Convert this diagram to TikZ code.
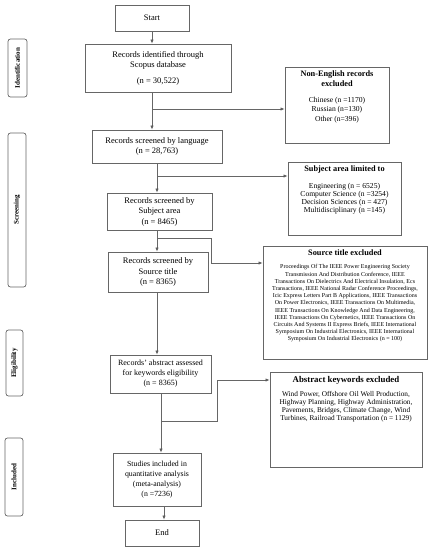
\documentclass[tikz,border=0pt]{standalone}
\usepackage{fontspec}
\setmainfont{Liberation Serif}
\usetikzlibrary{arrows.meta}
\long\def\topbox(#1:#2)#3{\parbox[c][#2][t]{#1}{\centering\vspace*{4pt}#3}}

\begin{document}
\begin{tikzpicture}[x=1pt, y=-1pt,
		box/.style={draw=black!60, line width=0.7pt, align=center, inner sep=1pt, font=\fontsize{8.5}{10.5}\selectfont},
		sidebox/.style={draw=black!60, line width=0.7pt, rounded corners=2.5pt, rotate=90, inner sep=1pt, font=\fontsize{7}{8}\selectfont\bfseries},
		exbox/.style={draw=black!60, line width=0.7pt, inner sep=0pt},
		flow/.style={draw=black!60, line width=0.6pt, -{Latex[length=4pt, width=3.2pt, fill=black]}}]
		%%%%% START %%%%%
		
		\useasboundingbox (0, 0) rectangle (432, 550);
		
		\node[sidebox, minimum width=58, minimum height=19] (phaseid) at (17.5, 68) {Identification};
		\node[sidebox, minimum width=154, minimum height=18] (phasesc) at (17, 210) {Screening};
		\node[sidebox, minimum width=66, minimum height=17] (phaseel) at (14.5, 363) {Eligibility};
		\node[sidebox, minimum width=78, minimum height=18] (phasein) at (14, 477) {Included};
		
		\node[box, minimum width=74, minimum height=26] (start) at (152, 18) {Start};
		\node[box, minimum width=146, minimum height=48] (ident) at (158, 68) {Records identified through\\ Scopus database\\[5pt] (n = 30,522)};
		\node[box, minimum width=130, minimum height=33] (lang) at (157, 146.5) {Records screened by language\\ (n = 28,763)};
		\node[box, minimum width=105, minimum height=37] (subj) at (159.5, 211.5) {Records screened by\\ Subject area\\ (n = 8465)};
		\node[box, minimum width=100, minimum height=40] (src) at (158, 272) {Records screened by\\ Source title\\ (n = 8365)};
		\node[box, minimum width=101, minimum height=38, font=\fontsize{8}{10}\selectfont] (abstr) at (160.5, 374) {Records’ abstract assessed\\ for keywords eligibility\\ (n = 8365)};
		\node[box, minimum width=88, minimum height=53, font=\fontsize{7.8}{10}\selectfont] (studies) at (157, 479.5) {Studies included in\\ quantitative analysis\\ (meta-analysis)\\ (n =7236)};
		\node[box, minimum width=74, minimum height=26] (end) at (162, 533) {End};
		
		\node[exbox] (noneng) at (337, 105) {\topbox(104pt:76pt){\fontsize{8.3}{10}\selectfont\bfseries Non-English records\\ excluded\par\vspace{6pt}
				\fontsize{7.6}{9.5}\selectfont\mdseries Chinese (n =1170)\\ Russian (n=130)\\ Other (n=396)}};
		\node[exbox] (subjarea) at (344.5, 198.5) {\topbox(113pt:73pt){\fontsize{8.3}{10}\selectfont\bfseries Subject area limited to\par\vspace{8pt}
				\fontsize{7.6}{8.3}\selectfont\mdseries Engineering (n = 6525)\\ Computer Science (n =3254)\\ Decision Sciences (n = 427)\\ Multidisciplinary (n =145)}};
		\node[exbox] (srctitle) at (345, 302.5) {\topbox(164pt:113pt){\fontsize{8.3}{10}\selectfont\bfseries Source title excluded\par\vspace{6pt}
				\fontsize{6}{7.2}\selectfont\mdseries Proceedings Of The IEEE Power Engineering Society\\ Transmission And Distribution Conference, IEEE\\ Transactions On Dielectrics And Electrical Insulation, Ecs\\ Transactions, IEEE National Radar Conference Proceedings,\\ Icic Express Letters Part B Applications, IEEE Transactions\\ On Power Electronics, IEEE Transactions On Multimedia,\\ IEEE Transactions On Knowledge And Data Engineering,\\ IEEE Transactions On Cybernetics, IEEE Transactions On\\ Circuits And Systems II Express Briefs, IEEE International\\ Symposium On Industrial Electronics, IEEE International\\ Symposium On Industrial Electronics (n = 100)}};
		\node[exbox] (keyw) at (346, 419.5) {\topbox(152pt:95pt){\fontsize{8.8}{10}\selectfont\bfseries Abstract keywords excluded\par\vspace{7pt}
				\fontsize{7.3}{7.8}\selectfont\mdseries Wind Power, Offshore Oil Well Production,\\ Highway Planning, Highway Administration,\\ Pavements, Bridges, Climate Change, Wind\\ Turbines, Railroad Transportation (n = 1129)}};
		
		\coordinate (j1) at (152, 109);
		\coordinate (j2) at (157, 176);
		\coordinate (j3) at (157, 238);
		\coordinate (k3) at (211, 263);
		\coordinate (j4) at (161, 421);
		\coordinate (k4) at (217, 380);
		\coordinate (j5) at (164, 513);
		
		\draw[flow] (start.south) -- (start.south |- ident.north);
		\draw[flow] (ident.south -| j1) -- (lang.north -| j1);
		\draw[flow] (j1) -- (j1 -| noneng.west);
		\draw[flow] (lang.south -| j2) -- (subj.north -| j2);
		\draw[flow] (j2) -- (j2 -| subjarea.west);
		\draw[flow] (subj.south -| j3) -- (src.north -| j3);
		\draw[flow] (j3) -| (k3) -- (k3 -| srctitle.west);
		\draw[flow] (src.south -| j3) -- (abstr.north -| j3);
		\draw[flow] (abstr.south -| j4) -- (studies.north -| j4);
		\draw[flow] (j4) -| (k4) -- (k4 -| keyw.west);
		\draw[flow] (studies.south -| j5) -- (end.north -| j5);
		
		%%%%% END %%%%%
	\end{tikzpicture}
\end{document}
